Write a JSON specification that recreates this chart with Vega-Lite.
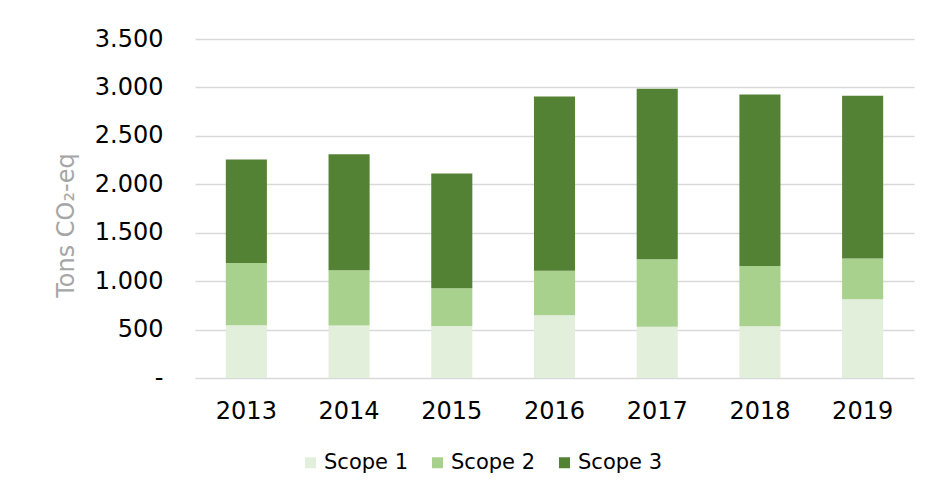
{
  "$schema": "https://vega.github.io/schema/vega-lite/v6.json",
  "autosize": {"type": "none"},
  "padding": {"left": 195, "top": 39, "right": 25, "bottom": 116},
  "width": 719,
  "height": 339,
  "background": "white",
  "config": {
    "view": {"stroke": null},
    "font": "DejaVu Sans"
  },
  "data": {
    "values": [
      {"year": "2013", "scope": "Scope 1", "value": 544},
      {"year": "2013", "scope": "Scope 2", "value": 644},
      {"year": "2013", "scope": "Scope 3", "value": 1068},
      {"year": "2014", "scope": "Scope 1", "value": 541},
      {"year": "2014", "scope": "Scope 2", "value": 572},
      {"year": "2014", "scope": "Scope 3", "value": 1198},
      {"year": "2015", "scope": "Scope 1", "value": 537},
      {"year": "2015", "scope": "Scope 2", "value": 390},
      {"year": "2015", "scope": "Scope 3", "value": 1184},
      {"year": "2016", "scope": "Scope 1", "value": 649},
      {"year": "2016", "scope": "Scope 2", "value": 458},
      {"year": "2016", "scope": "Scope 3", "value": 1800},
      {"year": "2017", "scope": "Scope 1", "value": 528},
      {"year": "2017", "scope": "Scope 2", "value": 697},
      {"year": "2017", "scope": "Scope 3", "value": 1762},
      {"year": "2018", "scope": "Scope 1", "value": 535},
      {"year": "2018", "scope": "Scope 2", "value": 621},
      {"year": "2018", "scope": "Scope 3", "value": 1772},
      {"year": "2019", "scope": "Scope 1", "value": 814},
      {"year": "2019", "scope": "Scope 2", "value": 421},
      {"year": "2019", "scope": "Scope 3", "value": 1679}
    ]
  },
  "mark": {"type": "bar"},
  "encoding": {
    "x": {
      "field": "year",
      "type": "ordinal",
      "scale": {"paddingInner": 0.6, "paddingOuter": 0.3},
      "axis": {
        "title": null,
        "labelAngle": 0,
        "labelFont": "DejaVu Sans",
        "labelFontSize": 24,
        "labelColor": "#000000",
        "labelPadding": 21,
        "ticks": false,
        "tickSize": 0,
        "domain": false,
        "grid": false
      }
    },
    "y": {
      "field": "value",
      "type": "quantitative",
      "stack": "zero",
      "scale": {"domain": [0, 3500], "nice": false},
      "axis": {
        "title": "Tons CO₂-eq",
        "titleFont": "DejaVu Sans",
        "titleFontSize": 24,
        "titleFontWeight": "normal",
        "titleColor": "#a6a6a6",
        "titleX": -117,
        "titleY": 186,
        "titleAngle": -90,
        "titleBaseline": "bottom",
        "titleAnchor": "middle",
        "values": [0, 500, 1000, 1500, 2000, 2500, 3000, 3500],
        "labelExpr": "datum.value == 0 ? '-\u00a0\u00a0' : replace(format(datum.value, ','), ',', '.')",
        "labelFont": "DejaVu Sans",
        "labelFontSize": 24,
        "labelColor": "#000000",
        "labelPadding": 32,
        "ticks": false,
        "tickSize": 0,
        "domain": false,
        "grid": true,
        "gridColor": "#d9d9d9",
        "gridWidth": 1.5
      }
    },
    "color": {
      "field": "scope",
      "type": "nominal",
      "scale": {
        "domain": ["Scope 1", "Scope 2", "Scope 3"],
        "range": ["#e2efda", "#a9d18e", "#548235"]
      },
      "legend": {
        "title": null,
        "orient": "none",
        "direction": "horizontal",
        "legendX": 105,
        "legendY": 413,
        "symbolType": "square",
        "symbolSize": 121,
        "symbolStrokeWidth": 0,
        "labelFont": "DejaVu Sans",
        "labelFontSize": 21,
        "labelColor": "#000000",
        "labelOffset": 3,
        "columnPadding": 18
      }
    },
    "order": {"field": "scope", "sort": "ascending"}
  }
}
